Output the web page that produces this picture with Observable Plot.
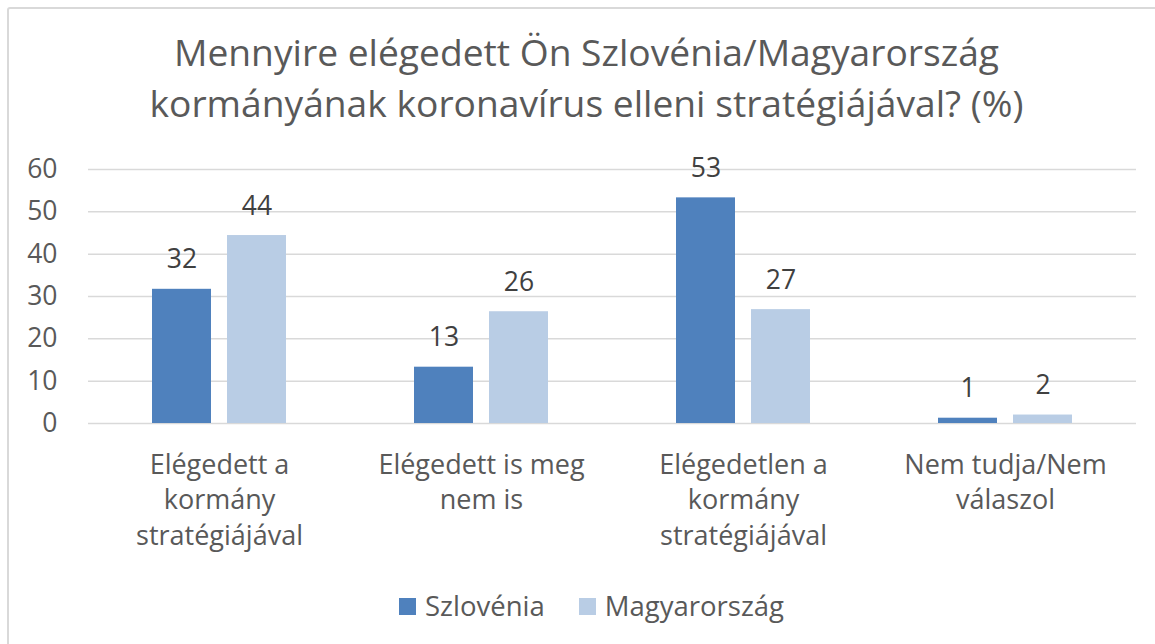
<!DOCTYPE html>
<html><head><meta charset="utf-8">
<script src="https://cdn.jsdelivr.net/npm/d3@7"></script>
<script src="https://cdn.jsdelivr.net/npm/@observablehq/plot@0.6"></script>
<style>
html,body{margin:0;padding:0;overflow:hidden;background:#fff;font-family:"Open Sans",sans-serif;}
#frame{position:absolute;left:7px;top:7px;width:1180px;height:680px;border:2px solid #d9d9d9;border-radius:3px;box-sizing:border-box;}
#title{position:absolute;left:0;top:27px;width:1173px;text-align:center;font-size:37.2px;line-height:50.6px;color:#595959;white-space:nowrap;}
#chart{position:absolute;left:0;top:140px;}
#legend{position:absolute;left:0;top:589px;width:1183px;display:flex;justify-content:center;align-items:center;font-size:27.5px;line-height:34px;color:#595959;}
.item{display:flex;align-items:center;margin:0 17px;}
.sw{width:17px;height:17px;margin-right:9px;}
</style></head>
<body>
<div id="frame"></div>
<div id="title">Mennyire elégedett Ön Szlovénia/Magyarország<br>kormányának koronavírus elleni stratégiájával? (%)</div>
<div id="chart"></div>
<div id="legend"></div>
<script>
const categories = ["Elégedett a kormány stratégiájával","Elégedett is meg nem is","Elégedetlen a kormány stratégiájával","Nem tudja/Nem válaszol"];
const tickLabels = ["Elégedett a\nkormány\nstratégiájával","Elégedett is meg\nnem is","Elégedetlen a\nkormány\nstratégiájával","Nem tudja/Nem\nválaszol"];
const series = ["Szlovénia","Magyarország"];
const szlovenia = [31.7,13.3,53.3,1.25];
const magyarorszag = [44.4,26.4,26.9,2.0];
const yTicks = [0,10,20,30,40,50,60];
const colors = ["#4f81bd","#b9cde5"];

const szlData = categories.map((c,i)=>({category:c, series:series[0], value:szlovenia[i]}));
const magData = categories.map((c,i)=>({category:c, series:series[1], value:magyarorszag[i]}));

const plot = Plot.plot({
  width:1155, height:420,
  marginTop:29, marginBottom:137, marginLeft:88, marginRight:19,
  style:{fontFamily:"Open Sans", color:"#595959", background:"transparent"},
  x:{domain:categories, padding:0, label:null},
  y:{domain:[0,60], label:null},
  color:{domain:series, range:colors},
  marks:[
    Plot.ruleY(yTicks,{stroke:"#d9d9d9", strokeWidth:1.5}),
    Plot.barY(szlData,{x:"category", y:"value", fill:"series", insetLeft:64, insetRight:139}),
    Plot.barY(magData,{x:"category", y:"value", fill:"series", insetLeft:139, insetRight:64}),
    Plot.text(szlData,{x:"category", y:"value", text:d=>Math.round(d.value), dx:-37.5, dy:-21, lineAnchor:"bottom", fontSize:26.5, fill:"#404040"}),
    Plot.text(magData,{x:"category", y:"value", text:d=>Math.round(d.value), dx:37.5, dy:-21, lineAnchor:"bottom", fontSize:26.5, fill:"#404040"}),
    Plot.axisY({ticks:yTicks, tickSize:0, tickPadding:31, fontSize:26.5, label:null}),
    Plot.axisX({tickSize:0, tickPadding:25, fontSize:27, lineHeight:1.32, label:null, tickFormat:d=>tickLabels[categories.indexOf(d)]})
  ]
});
document.getElementById("chart").appendChild(plot);

const legend = document.getElementById("legend");
series.forEach((s,i)=>{
  const it=document.createElement("div"); it.className="item";
  const sw=document.createElement("div"); sw.className="sw"; sw.style.background=colors[i];
  const tx=document.createElement("span"); tx.textContent=s;
  it.appendChild(sw); it.appendChild(tx); legend.appendChild(it);
});
</script>
</body></html>
